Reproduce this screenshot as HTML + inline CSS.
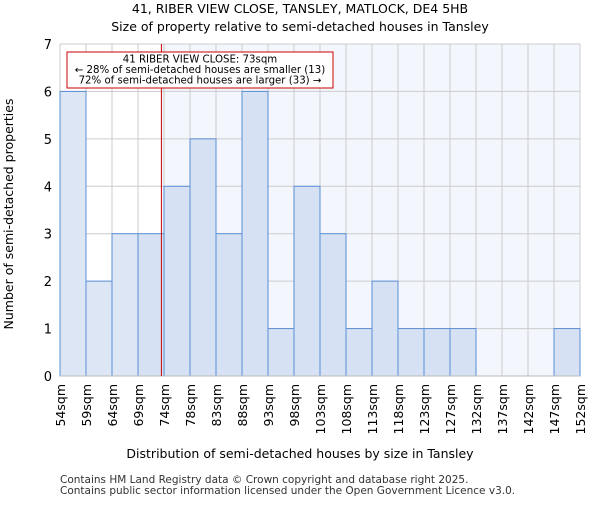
<!DOCTYPE html>
<html><head><meta charset="utf-8"><style>body{margin:0;background:#fff}svg text{font-family:"DejaVu Sans","Liberation Sans",sans-serif}</style></head><body>
<svg id="c" width="600" height="500">
<text x="300" y="13" text-anchor="middle" font-size="12.5">41, RIBER VIEW CLOSE, TANSLEY, MATLOCK, DE4 5HB</text>
<text x="300" y="31" text-anchor="middle" font-size="12.5">Size of property relative to semi-detached houses in Tansley</text>
<g id="plot"></g>
<text x="300" y="458" text-anchor="middle" font-size="12.5">Distribution of semi-detached houses by size in Tansley</text>
<text transform="translate(13,214) rotate(-90)" text-anchor="middle" font-size="12.5">Number of semi-detached properties</text>
<text x="60" y="483" font-size="10.5" fill="#333">Contains HM Land Registry data © Crown copyright and database right 2025.</text>
<text x="60" y="494" font-size="10.5" fill="#333">Contains public sector information licensed under the Open Government Licence v3.0.</text>
</svg>
<script>
const tickLabels=["54sqm","59sqm","64sqm","69sqm","74sqm","78sqm","83sqm","88sqm","93sqm","98sqm","103sqm","108sqm","113sqm","118sqm","123sqm","127sqm","132sqm","137sqm","142sqm","147sqm","152sqm"];
const counts=[6,2,3,3,4,5,3,6,1,4,3,1,2,1,1,1,0,0,0,1];
const yTicks=[0,1,2,3,4,5,6,7];
const subjectBin=3.9;
const NS="http://www.w3.org/2000/svg";
const g=document.getElementById('plot');
const X0=60,X1=580,Y0=376,Y1=44,yMax=7;
const bw=(X1-X0)/counts.length;
const xs=i=>X0+i*bw, ys=v=>Y0-(v/yMax)*(Y0-Y1);
function mk(t,a){const e=document.createElementNS(NS,t);for(const k in a)e.setAttribute(k,a[k]);g.appendChild(e);return e;}
const sx=xs(subjectBin);
let e=mk('rect',{x:sx,y:Y1,width:X1-sx,height:Y0-Y1,fill:'#f3f6fd'});


for(let i=0;i<=counts.length;i++){e=mk('line',{x1:xs(i),x2:xs(i),y1:Y1,y2:Y0,stroke:'#cccccc'});

}
yTicks.forEach(v=>{e=mk('line',{x1:X0,x2:X1,y1:ys(v),y2:ys(v),stroke:'#cccccc'});


const t=mk('text',{x:X0-8,y:ys(v)+5,'text-anchor':'end','font-size':13});t.textContent=v;

});
counts.forEach((c,i)=>{if(c<=0)return;
const r=mk('rect',{x:xs(i),y:ys(c),width:bw,height:Y0-ys(c),fill:(i+1)<=subjectBin?'#dde6f4':'#d6e2f3',stroke:'#5b8fd6','stroke-width':1});

});
tickLabels.forEach((l,i)=>{const t=mk('text',{transform:`translate(${xs(i)+5},384) rotate(-90)`,'text-anchor':'end','font-size':12.5});t.textContent=l;

});
e=mk('line',{x1:X0,x2:X1,y1:Y0,y2:Y0,stroke:'#bbbbbb'});


e=mk('line',{x1:sx,x2:sx,y1:Y1,y2:Y0,stroke:'#cc0000','stroke-width':1});


e=mk('rect',{x:67,y:52,width:266,height:36,fill:'#fff',stroke:'#cc0000'});


["41 RIBER VIEW CLOSE: 73sqm","← 28% of semi-detached houses are smaller (13)","72% of semi-detached houses are larger (33) →"].forEach((s,k)=>{const t=mk('text',{x:200,y:62.5+k*10.5,'text-anchor':'middle','font-size':10.2});t.textContent=s;

});
</script>
</body></html>
